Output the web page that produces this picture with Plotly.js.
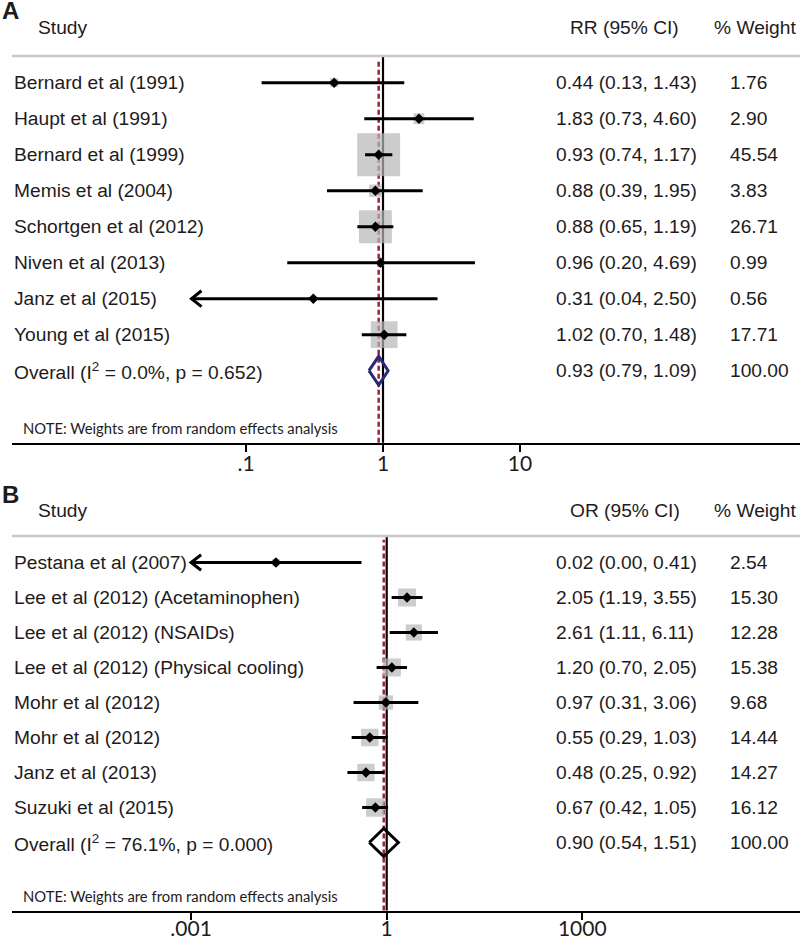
<!DOCTYPE html>
<html><head><meta charset="utf-8">
<script src="https://cdn.plot.ly/plotly-3.0.1.min.js"></script>
<style>html,body{margin:0;padding:0;background:#fff}</style>
</head><body><div id="chart" style="width:800px;height:937px"></div>
<script>
// ---------- Panel A data ----------
const studiesA = ["Bernard et al (1991)","Haupt et al (1991)","Bernard et al (1999)","Memis et al (2004)","Schortgen et al (2012)","Niven et al (2013)","Janz et al (2015)","Young et al (2015)"];
const rrA = [0.44,1.83,0.93,0.88,0.88,0.96,0.31,1.02];
const loA = [0.13,0.73,0.74,0.39,0.65,0.20,0.04,0.70];
const hiA = [1.43,4.60,1.17,1.95,1.19,4.69,2.50,1.48];
const weightA = [1.76,2.90,45.54,3.83,26.71,0.99,0.56,17.71];
const arrowA = [0,0,0,0,0,0,1,0];
const overallA = [0.93,0.79,1.09];
const overallLabelA = "Overall (I<sup>2</sup> = 0.0%, p = 0.652)";
const tickValsA = [0.1,1,10];
const tickTextA = [".1","1","10"];

// ---------- Panel B data ----------
const studiesB = ["Pestana et al (2007)","Lee et al (2012) (Acetaminophen)","Lee et al (2012) (NSAIDs)","Lee et al (2012) (Physical cooling)","Mohr et al (2012)","Mohr et al (2012)","Janz et al (2013)","Suzuki et al (2015)"];
const orB = [0.02,2.05,2.61,1.20,0.97,0.55,0.48,0.67];
const loB = [0.00,1.19,1.11,0.70,0.31,0.29,0.25,0.42];
const hiB = [0.41,3.55,6.11,2.05,3.06,1.03,0.92,1.05];
const weightB = [2.54,15.30,12.28,15.38,9.68,14.44,14.27,16.12];
const arrowB = [1,0,0,0,0,0,0,0];
const overallB = [0.90,0.54,1.51];
const overallLabelB = "Overall (I<sup>2</sup> = 76.1%, p = 0.000)";
const tickValsB = [0.001,1,1000];
const tickTextB = [".001","1","1000"];

// ---------- layout helpers ----------
const W = 800, H = 937, L = 12;
const py = p => 1 - p / H;
const pxp = p => (p - L) / (W - L);
const FONT = "'Liberation Sans', Arial, Helvetica, sans-serif";
const FONT2 = "Lato, 'Liberation Sans', sans-serif";
const TXT = '#1e1b1c';

const traces = [], shapes = [], annotations = [];

function ann(text, x, y, yref, extra) {
  annotations.push(Object.assign({
    text: text, x: x, y: y, xref: 'paper', yref: yref,
    xanchor: 'left', yanchor: 'middle', showarrow: false,
    font: {family: FONT, size: 19.2, color: TXT}
  }, extra || {}));
}

function addPanel(p) {
  const n = p.studies.length;
  const idx = p.studies.map((_, i) => i);
  const xa = p.xa, ya = p.ya;
  const loDraw = p.lo.map(v => Math.max(v, p.minX));
  const base = {type: 'scatter', xaxis: xa, yaxis: ya, hoverinfo: 'skip', showlegend: false, cliponaxis: false};

  // reference lines
  shapes.push({type: 'line', xref: xa, yref: ya + ' domain', x0: 1, x1: 1, y0: 0, y1: 1,
    line: {color: '#000', width: 2.2}, layer: 'below'});
  shapes.push({type: 'line', xref: xa, yref: ya + ' domain', x0: p.overall[0], x1: p.overall[0], y0: 0, y1: 0.99,
    line: {color: '#9e2236', width: 2.5, dash: '5px,3px'}, layer: 'below'});
  shapes.push({type: 'line', xref: 'paper', yref: ya + ' domain', x0: 0, x1: 1, y0: 1, y1: 1,
    line: {color: '#c8c8c8', width: 2.5}});

  // weight squares
  traces.push(Object.assign({}, base, {mode: 'markers', x: p.est, y: idx,
    marker: {symbol: 'square', size: p.weight.map(w => p.sq * Math.sqrt(w)), color: '#b6b6b6', line: {width: 0}}}));
  // CI lines
  const cx = [], cy = [];
  idx.forEach(i => { cx.push(loDraw[i], p.hi[i], null); cy.push(i, i, null); });
  traces.push(Object.assign({}, base, {mode: 'lines', x: cx, y: cy, line: {color: '#000', width: 3}}));
  // arrow heads for truncated CIs
  const k = Math.pow(10, 10 / p.pxDec);
  const ax = [], ay = [];
  idx.forEach(i => { if (p.arrow[i]) { ax.push(loDraw[i] * k, loDraw[i], loDraw[i] * k, null); ay.push(i - 0.22, i, i + 0.22, null); } });
  traces.push(Object.assign({}, base, {mode: 'lines', x: ax, y: ay, line: {color: '#000', width: 3}}));
  // point estimates
  traces.push(Object.assign({}, base, {mode: 'markers', x: p.est, y: idx,
    marker: {symbol: 'diamond', size: 8, color: '#000', line: {width: 0}}}));
  // overall diamond
  const o = p.overall, r = n;
  traces.push(Object.assign({}, base, {mode: 'lines', x: [o[1], o[0], o[2], o[0], o[1]], y: [r, r - 0.4, r, r + 0.4, r],
    line: {color: p.dColor, width: 3}}));

  // text columns
  const f = v => v.toFixed(2);
  idx.forEach(i => {
    ann(p.studies[i], 0, i, ya);
    ann(f(p.est[i]) + ' (' + f(p.lo[i]) + ', ' + f(p.hi[i]) + ')', pxp(554), i, ya);
    ann(f(p.weight[i]), pxp(728), i, ya);
  });
  ann(p.overallLabel, 0, r, ya);
  ann(f(o[0]) + ' (' + f(o[1]) + ', ' + f(o[2]) + ')', pxp(554), r, ya);
  ann('100.00', pxp(728), r, ya);

  // headers
  ann('Study', pxp(36), py(p.headY), 'paper');
  ann(p.colHead, pxp(568), py(p.headY), 'paper');
  ann('% Weight', pxp(712), py(p.headY), 'paper');
  ann('<b>' + p.letter + '</b>', pxp(0), py(p.letterY), 'paper', {font: {family: FONT, size: 24, color: TXT}});
  ann('NOTE: Weights are from random effects analysis', pxp(21), py(p.noteY), 'paper',
    {font: {family: FONT2, size: 14.8, color: TXT}});
}

addPanel({xa: 'x', ya: 'y', studies: studiesA, est: rrA, lo: loA, hi: hiA, weight: weightA, arrow: arrowA,
  overall: overallA, overallLabel: overallLabelA, sq: 6.37, minX: 0.01, pxDec: 137, dColor: '#272a75',
  colHead: 'RR (95% CI)', headY: 28, letterY: 10, noteY: 428, letter: 'A'});
addPanel({xa: 'x2', ya: 'y2', studies: studiesB, est: orB, lo: loB, hi: hiB, weight: weightB, arrow: arrowB,
  overall: overallB, overallLabel: overallLabelB, sq: 4.6, minX: tickValsB[0], pxDec: 65.2, dColor: '#000',
  colHead: 'OR (95% CI)', headY: 510, letterY: 494, noteY: 896, letter: 'B'});

const xcommon = {type: 'log', domain: [0, 1], showline: true, linecolor: '#000', linewidth: 2,
  ticks: 'outside', ticklen: 7, tickwidth: 2, tickcolor: '#000', showgrid: false, zeroline: false,
  tickfont: {family: FONT2, size: 21, color: TXT}, fixedrange: true};
const ycommon = {visible: false, showgrid: false, zeroline: false, fixedrange: true};

const layout = {
  width: W, height: H, margin: {l: L, r: 0, t: 0, b: 0},
  paper_bgcolor: '#fff', plot_bgcolor: 'rgba(0,0,0,0)', showlegend: false,
  xaxis: Object.assign({}, xcommon, {anchor: 'y', ticklabelstandoff: -6, range: [(12 - 383) / 137, (800 - 383) / 137], tickvals: tickValsA, ticktext: tickTextA}),
  yaxis: Object.assign({}, ycommon, {domain: [py(442.7), py(56)], range: [(442.7 - 82.7) / 36, (56 - 82.7) / 36]}),
  xaxis2: Object.assign({}, xcommon, {anchor: 'y2', ticklabelstandoff: -9, range: [(12 - 386.7) / 65.2, (800 - 386.7) / 65.2], tickvals: tickValsB, ticktext: tickTextB}),
  yaxis2: Object.assign({}, ycommon, {domain: [py(910.5), py(536)], range: [(910.5 - 562.5) / 35, (536 - 562.5) / 35]}),
  shapes: shapes, annotations: annotations
};

Plotly.newPlot('chart', traces, layout, {displayModeBar: false, staticPlot: true});
</script>
</body></html>
